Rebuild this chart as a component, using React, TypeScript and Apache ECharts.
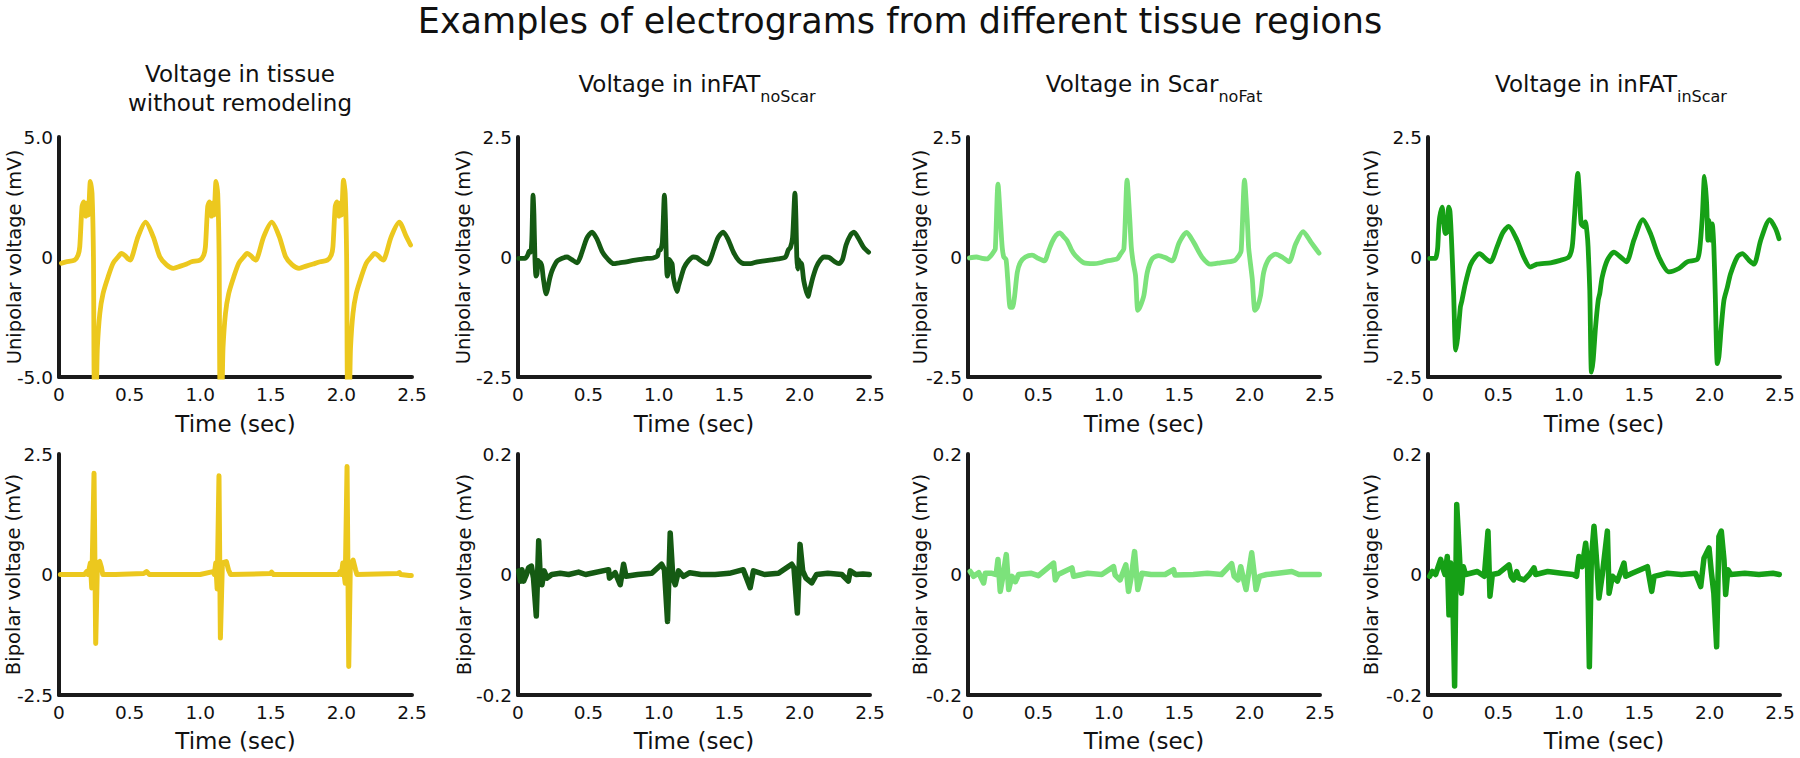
import React, { useEffect, useRef } from 'react';
import * as echarts from 'echarts';

const FONT = "'DejaVu Sans', 'Liberation Sans', sans-serif";

const mainTitle = 'Examples of electrograms from different tissue regions';
const titleMain = ['Voltage in tissue\nwithout remodeling', 'Voltage in inFAT', 'Voltage in Scar', 'Voltage in inFAT'];
const titleSub = ['', 'noScar', 'noFat', 'inScar'];
const yNames = ['Unipolar voltage (mV)', 'Bipolar voltage (mV)'];
const xName = 'Time (sec)';
const colors = ['#ECC81E', '#155A13', '#7CE27B', '#16A016'];
const uniLimits = [5, 2.5, 2.5, 2.5];
const biLimits = [2.5, 0.2, 0.2, 0.2];
const xTicks = [0, 0.5, 1.0, 1.5, 2.0, 2.5];

// Unipolar, tissue without remodeling [time s, mV]
const uniNoRemodel: number[][] = [
  [0.017, -0.26], [0.05, -0.2], [0.11, -0.13], [0.135, 0.08], [0.147, 0.43], [0.163, 2.1], [0.175, 2.3],
  [0.19, 1.7], [0.2, 2.25], [0.208, 1.75], [0.222, 3.15], [0.234, 2.65], [0.244, 0.0], [0.251, -5.6],
  [0.262, -5.6], [0.272, -3.75], [0.289, -2.35], [0.312, -1.52], [0.348, -0.82], [0.383, -0.26],
  [0.419, 0.01], [0.442, 0.15], [0.47, 0.05], [0.49, -0.08], [0.506, -0.13], [0.525, 0.15], [0.56, 0.85],
  [0.613, 1.45], [0.667, 0.85], [0.714, 0.01], [0.762, -0.33], [0.809, -0.47], [0.86, -0.38], [0.904, -0.29],
  [0.939, -0.2], [0.998, -0.13], [1.025, 0.08],
  [1.037, 0.43], [1.053, 2.1], [1.065, 2.3], [1.08, 1.7], [1.09, 2.25], [1.098, 1.75], [1.112, 3.15],
  [1.124, 2.65], [1.134, 0.0], [1.141, -5.6], [1.152, -5.6], [1.162, -3.75], [1.179, -2.35], [1.202, -1.52],
  [1.238, -0.82], [1.273, -0.26], [1.309, 0.01], [1.332, 0.15], [1.36, 0.05], [1.38, -0.08], [1.396, -0.13],
  [1.415, 0.15], [1.45, 0.85], [1.507, 1.45], [1.56, 0.85], [1.605, 0.01], [1.652, -0.33], [1.7, -0.47],
  [1.75, -0.38], [1.8, -0.29], [1.85, -0.2], [1.9, -0.13], [1.928, 0.08],
  [1.94, 0.43], [1.956, 2.1], [1.968, 2.3], [1.983, 1.7], [1.993, 2.25], [2.001, 1.75], [2.015, 3.2],
  [2.027, 2.65], [2.037, 0.0], [2.044, -5.6], [2.055, -5.6], [2.065, -3.75], [2.082, -2.35], [2.105, -1.52],
  [2.141, -0.82], [2.176, -0.26], [2.212, 0.01], [2.235, 0.15], [2.263, 0.05], [2.283, -0.08], [2.299, -0.13],
  [2.318, 0.15], [2.353, 0.85], [2.41, 1.45], [2.46, 0.85], [2.49, 0.5],
];

// Unipolar, inFAT noScar
const uniFatNoScar: number[][] = [
  [0.005, -0.03], [0.05, -0.03], [0.068, 0.03], [0.08, 0.12], [0.09, 0.1], [0.098, 0.35], [0.107, 1.29],
  [0.113, 0.9], [0.12, 0.0], [0.128, -0.4], [0.135, -0.35], [0.142, -0.07], [0.15, -0.1], [0.16, -0.12],
  [0.17, -0.2], [0.18, -0.45], [0.2, -0.77], [0.21, -0.67], [0.225, -0.45], [0.24, -0.3], [0.26, -0.17],
  [0.28, -0.08], [0.31, -0.03], [0.348, 0.0], [0.38, -0.05], [0.42, -0.12], [0.44, -0.02], [0.46, 0.15],
  [0.49, 0.4], [0.526, 0.52], [0.56, 0.38], [0.6, 0.1], [0.64, -0.05], [0.68, -0.14], [0.72, -0.12],
  [0.77, -0.1], [0.82, -0.07], [0.87, -0.05], [0.92, -0.03], [0.96, -0.02],
  [0.99, 0.02], [1.0, 0.14], [1.012, 0.15], [1.025, 0.3], [1.04, 1.29], [1.047, 0.8], [1.053, 0.0],
  [1.06, -0.4], [1.067, -0.32], [1.075, -0.05], [1.085, -0.1], [1.095, -0.15], [1.105, -0.45], [1.13, -0.72],
  [1.14, -0.6], [1.16, -0.4], [1.18, -0.22], [1.21, -0.08], [1.245, 0.0], [1.27, -0.01], [1.3, -0.08],
  [1.345, -0.15], [1.365, -0.06], [1.39, 0.15], [1.42, 0.4], [1.457, 0.52], [1.49, 0.38], [1.53, 0.1],
  [1.57, -0.08], [1.61, -0.14], [1.65, -0.14], [1.7, -0.1], [1.75, -0.08], [1.8, -0.06], [1.85, -0.04],
  [1.9, 0.0], [1.92, 0.15], [1.935, 0.2], [1.95, 0.4], [1.967, 1.33], [1.974, 0.8], [1.98, 0.0],
  [1.985, -0.25], [1.99, -0.05], [2.0, -0.1], [2.015, -0.15], [2.03, -0.5], [2.06, -0.82], [2.075, -0.65],
  [2.095, -0.42], [2.12, -0.2], [2.15, -0.05], [2.175, 0.0], [2.21, -0.01], [2.25, -0.1], [2.28, -0.14],
  [2.305, -0.05], [2.33, 0.25], [2.36, 0.45], [2.386, 0.52], [2.42, 0.38], [2.455, 0.2], [2.49, 0.1],
];

// Unipolar, Scar noFat
const uniScarNoFat: number[][] = [
  [0.01, -0.02], [0.06, 0.0], [0.1, -0.03], [0.135, -0.04], [0.163, 0.03], [0.185, 0.12], [0.194, 0.17],
  [0.213, 1.52], [0.23, 0.79], [0.243, 0.2], [0.254, 0.0], [0.27, -0.05], [0.282, -0.46], [0.3, -1.05],
  [0.315, -1.05], [0.33, -0.84], [0.35, -0.32], [0.372, -0.11], [0.408, 0.0], [0.455, 0.04], [0.5, -0.03],
  [0.543, -0.08], [0.575, 0.15], [0.597, 0.31], [0.625, 0.45], [0.652, 0.5], [0.68, 0.42], [0.704, 0.34],
  [0.735, 0.15], [0.763, 0.03], [0.822, -0.12], [0.893, -0.14], [0.94, -0.12], [0.988, -0.08],
  [1.059, -0.04], [1.083, 0.06], [1.107, 0.17], [1.13, 1.6], [1.149, 0.79], [1.16, 0.2], [1.173, -0.11],
  [1.19, -0.39], [1.206, -1.11], [1.22, -1.05], [1.249, -0.8], [1.273, -0.32], [1.308, -0.04], [1.355, 0.03],
  [1.4, -0.01], [1.45, -0.08], [1.5, 0.3], [1.552, 0.51], [1.604, 0.3], [1.664, -0.01], [1.723, -0.15],
  [1.794, -0.12], [1.889, -0.08], [1.924, 0.03], [1.94, 0.13], [1.964, 1.6], [1.983, 0.79], [1.993, 0.2],
  [2.002, -0.04], [2.019, -0.46], [2.038, -1.11], [2.055, -1.05], [2.078, -0.8], [2.1, -0.32], [2.137, -0.04],
  [2.185, 0.06], [2.235, -0.01], [2.28, -0.1], [2.327, 0.27], [2.38, 0.53], [2.438, 0.3], [2.493, 0.08],
];

// Unipolar, inFAT inScar
const uniFatInScar: number[][] = [
  [0.012, -0.03], [0.052, -0.03], [0.062, 0.05], [0.069, 0.2], [0.076, 0.6], [0.083, 0.83], [0.1, 1.04],
  [0.111, 0.76], [0.123, 0.49], [0.135, 0.52], [0.147, 1.04], [0.156, 0.95], [0.166, 0.42], [0.173, -0.07],
  [0.182, -0.76], [0.197, -1.94], [0.211, -1.67], [0.23, -1.04], [0.24, -0.92], [0.265, -0.56],
  [0.301, -0.17], [0.336, 0.0], [0.367, 0.07], [0.408, -0.03], [0.443, -0.1], [0.49, 0.21], [0.53, 0.5],
  [0.573, 0.64], [0.633, 0.35], [0.68, 0.0], [0.727, -0.21], [0.775, -0.15], [0.87, -0.12], [0.94, -0.07],
  [1.0, 0.0], [1.024, 0.21], [1.04, 0.83], [1.064, 1.74], [1.078, 1.18], [1.088, 0.69], [1.107, 0.63],
  [1.118, 0.73], [1.13, 0.49], [1.137, 0.21], [1.149, -0.69], [1.161, -2.4], [1.173, -2.15], [1.19, -1.46],
  [1.209, -0.9], [1.22, -0.76], [1.237, -0.42], [1.273, -0.07], [1.32, 0.1], [1.367, 0.0], [1.41, -0.1],
  [1.462, 0.35], [1.526, 0.78], [1.58, 0.49], [1.64, 0.0], [1.711, -0.31], [1.782, -0.24], [1.841, -0.1],
  [1.912, -0.05], [1.93, 0.17], [1.948, 0.83], [1.964, 1.68], [1.979, 1.11], [1.988, 0.35], [1.995, 0.76],
  [2.007, 0.35], [2.019, 0.69], [2.03, 0.21], [2.04, -0.76], [2.055, -2.22], [2.066, -2.08], [2.083, -1.46],
  [2.102, -0.9], [2.126, -0.63], [2.149, -0.35], [2.197, 0.0], [2.232, 0.07], [2.28, -0.07], [2.315, -0.15],
  [2.363, 0.35], [2.427, 0.78], [2.469, 0.59], [2.493, 0.38],
];

// Bipolar, tissue without remodeling
const biNoRemodel: number[][] = [
  [0.01, 0.0], [0.1, 0.0], [0.18, 0.0], [0.195, 0.06], [0.205, 0.0], [0.222, 0.24], [0.232, -0.28],
  [0.248, 2.1], [0.26, -1.43], [0.272, 0.24], [0.288, 0.27], [0.3, 0.15], [0.31, 0.0], [0.4, 0.0],
  [0.6, 0.02], [0.62, 0.06], [0.64, 0.0], [1.0, 0.0], [1.09, 0.06], [1.1, 0.0], [1.11, 0.24], [1.12, -0.3],
  [1.133, 2.05], [1.143, -1.32], [1.157, 0.24], [1.185, 0.27], [1.2, 0.1], [1.215, 0.0], [1.5, 0.02],
  [1.505, 0.05], [1.52, 0.0], [1.98, 0.0], [1.99, 0.06], [2.0, 0.0], [2.01, 0.24], [2.027, -0.18],
  [2.04, 2.24], [2.052, -1.91], [2.063, 0.17], [2.083, 0.3], [2.1, 0.1], [2.11, 0.0], [2.4, 0.02],
  [2.41, 0.04], [2.42, 0.0], [2.48, -0.02], [2.495, -0.02],
];

// Bipolar, inFAT noScar
const biFatNoScar: number[][] = [
  [0.005, 0.006], [0.017, -0.011], [0.028, 0.008], [0.04, -0.011], [0.06, 0.0], [0.075, 0.011],
  [0.095, 0.014], [0.11, -0.006], [0.13, -0.069], [0.147, 0.056], [0.158, -0.005], [0.17, -0.017],
  [0.186, 0.006], [0.206, -0.006], [0.24, 0.0], [0.3, 0.002], [0.36, 0.0], [0.43, 0.004], [0.48, 0.0],
  [0.643, 0.008], [0.65, -0.006], [0.69, 0.003], [0.726, -0.017], [0.75, 0.017], [0.767, -0.003],
  [0.85, 0.0], [0.95, 0.002], [1.02, 0.017], [1.04, 0.008], [1.062, -0.078], [1.081, 0.069], [1.1, -0.006],
  [1.117, -0.017], [1.14, 0.006], [1.175, -0.003], [1.22, 0.003], [1.3, 0.0], [1.4, 0.0], [1.5, 0.002],
  [1.6, 0.008], [1.649, -0.022], [1.672, 0.006], [1.75, 0.0], [1.85, 0.002], [1.944, 0.017], [1.96, 0.011],
  [1.984, -0.064], [2.003, 0.05], [2.022, 0.006], [2.045, -0.006], [2.086, -0.014], [2.12, 0.0],
  [2.2, 0.002], [2.3, 0.0], [2.346, -0.011], [2.36, 0.006], [2.4, 0.0], [2.45, 0.001], [2.495, 0.0],
];

// Bipolar, Scar noFat
const biScarNoFat: number[][] = [
  [0.016, 0.005], [0.04, -0.003], [0.076, 0.003], [0.111, -0.014], [0.123, 0.002], [0.17, 0.002],
  [0.2, 0.0], [0.213, 0.025], [0.229, -0.028], [0.25, 0.0], [0.272, 0.033], [0.289, -0.025],
  [0.312, -0.003], [0.336, -0.012], [0.36, 0.0], [0.45, 0.002], [0.5, -0.002], [0.608, 0.019],
  [0.62, -0.009], [0.64, 0.0], [0.738, 0.011], [0.75, -0.003], [0.85, 0.002], [0.95, 0.0], [1.034, 0.013],
  [1.045, -0.001], [1.08, -0.009], [1.121, 0.016], [1.14, -0.028], [1.16, -0.003], [1.183, 0.038],
  [1.206, -0.025], [1.235, 0.002], [1.3, 0.0], [1.4, 0.0], [1.46, 0.008], [1.47, -0.001], [1.6, 0.0],
  [1.7, 0.002], [1.8, 0.0], [1.873, 0.018], [1.89, -0.003], [1.918, -0.009], [1.937, 0.013],
  [1.955, -0.006], [1.975, -0.025], [2.015, 0.036], [2.046, -0.025], [2.07, -0.003], [2.12, 0.0],
  [2.2, 0.002], [2.3, 0.005], [2.35, 0.0], [2.42, 0.0], [2.495, 0.0],
];

// Bipolar, inFAT inScar
const biFatInScar: number[][] = [
  [0.012, -0.003], [0.03, 0.005], [0.054, 0.0], [0.09, 0.025], [0.102, 0.013], [0.121, 0.0], [0.137, 0.03],
  [0.149, -0.067], [0.161, 0.019], [0.173, 0.0], [0.189, -0.185], [0.204, 0.116], [0.22, 0.047],
  [0.237, -0.031], [0.251, 0.013], [0.267, 0.0], [0.35, 0.005], [0.4, -0.003], [0.426, 0.072],
  [0.44, -0.036], [0.457, 0.0], [0.5, 0.002], [0.575, 0.016], [0.59, -0.003], [0.608, -0.009], [0.63, 0.005],
  [0.645, -0.006], [0.682, -0.009], [0.72, 0.0], [0.753, 0.011], [0.765, 0.0], [0.85, 0.005], [0.95, 0.002],
  [1.03, 0.0], [1.055, -0.003], [1.072, 0.03], [1.095, 0.013], [1.12, 0.052], [1.133, 0.019],
  [1.146, -0.153], [1.16, 0.025], [1.179, 0.08], [1.19, 0.047], [1.202, 0.008], [1.214, -0.039],
  [1.238, 0.0], [1.274, 0.072], [1.286, -0.031], [1.31, -0.003], [1.345, -0.011], [1.392, 0.019],
  [1.404, -0.003], [1.45, 0.002], [1.558, 0.013], [1.589, -0.028], [1.606, -0.003], [1.7, 0.002], [1.8, 0.0],
  [1.9, 0.002], [1.937, -0.02], [1.96, 0.027], [1.996, 0.044], [2.012, 0.005], [2.03, -0.031],
  [2.05, -0.12], [2.066, 0.063], [2.083, 0.072], [2.102, 0.025], [2.114, -0.033], [2.13, 0.008],
  [2.15, 0.0], [2.25, 0.002], [2.35, 0.0], [2.45, 0.002], [2.495, 0.0],
];

const uniSeries = [uniNoRemodel, uniFatNoScar, uniScarNoFat, uniFatInScar];
const biSeries = [biNoRemodel, biFatNoScar, biScarNoFat, biFatInScar];

// layout (pixels)
const colLeft = [59, 518, 968, 1428];
const colWidth = [353, 352, 352, 352];
const rowTop = [137, 454];
const rowHeight = [240, 241];
const titleX = [240, 697, 1154, 1611];
const yNameX = [[14, 463, 920, 1371], [13, 464, 920, 1371]];
const xNameY = [424, 741];
const lineWidths = [[4.8, 4.8, 4.8, 4.8], [5, 5.5, 5.5, 5.5]];

const fmt = (v: number) => (Math.abs(v) < 1e-9 ? '0' : v.toFixed(1));

export default function App() {
  const ref = useRef<HTMLDivElement>(null);
  useEffect(() => {
    if (!ref.current) return;
    const chart = echarts.init(ref.current, null, { renderer: 'svg' });
    const grid: any[] = [];
    const xAxis: any[] = [];
    const yAxis: any[] = [];
    const series: any[] = [];
    const graphic: any[] = [];
    const axisLine = { show: true, onZero: false, lineStyle: { color: '#1a1a1a', width: 4 } };
    for (let row = 0; row < 2; row++) {
      for (let col = 0; col < 4; col++) {
        const idx = row * 4 + col;
        const lim = row === 0 ? uniLimits[col] : biLimits[col];
        grid.push({ left: colLeft[col], top: rowTop[row], width: colWidth[col], height: rowHeight[row] });
        xAxis.push({
          type: 'value', gridIndex: idx, min: xTicks[0], max: xTicks[xTicks.length - 1], interval: 0.5,
          axisLine, axisTick: { show: false }, splitLine: { show: false },
          axisLabel: { fontFamily: FONT, fontSize: 18.5, color: '#111', margin: 8, formatter: fmt },
        });
        yAxis.push({
          type: 'value', gridIndex: idx, min: -lim, max: lim, interval: lim,
          axisLine, axisTick: { show: false }, splitLine: { show: false },
          axisLabel: { fontFamily: FONT, fontSize: 18.5, color: '#111', margin: 6, formatter: fmt },
        });
        series.push({
          type: 'line', xAxisIndex: idx, yAxisIndex: idx,
          data: row === 0 ? uniSeries[col] : biSeries[col],
          showSymbol: false, symbol: 'none', clip: true, silent: true,
          smooth: row === 0 ? 0.25 : false,
          lineStyle: { color: colors[col], width: lineWidths[row][col], join: 'round', cap: 'round' },
        });
        graphic.push({
          type: 'text', x: yNameX[row][col], y: rowTop[row] + rowHeight[row] / 2, rotation: Math.PI / 2,
          style: { text: yNames[row], font: `19.5px ${FONT}`, fill: '#111', align: 'center', verticalAlign: 'middle' },
        });
        graphic.push({
          type: 'text', x: colLeft[col] + colWidth[col] / 2, y: xNameY[row],
          style: { text: xName, font: `23px ${FONT}`, fill: '#111', align: 'center', verticalAlign: 'middle' },
        });
      }
    }
    // main title
    graphic.push({
      type: 'text', x: 900, y: 21,
      style: { text: mainTitle, font: `35px ${FONT}`, fill: '#111', align: 'center', verticalAlign: 'middle' },
    });
    // panel titles
    for (let col = 0; col < 4; col++) {
      if (!titleSub[col]) {
        graphic.push({
          type: 'text', x: titleX[col], y: 88,
          style: { text: titleMain[col], font: `23px ${FONT}`, lineHeight: 29, fill: '#111', align: 'center', verticalAlign: 'middle' },
        });
      } else {
        graphic.push({
          type: 'text', x: titleX[col], y: 84,
          style: {
            text: `{m|${titleMain[col]}}{s|${titleSub[col]}}`,
            align: 'center', verticalAlign: 'middle', fill: '#111',
            rich: {
              m: { fontFamily: FONT, fontSize: 23, lineHeight: 40, verticalAlign: 'middle', fill: '#111' },
              s: { fontFamily: FONT, fontSize: 16, lineHeight: 16, verticalAlign: 'bottom', fill: '#111' },
            },
          },
        });
      }
    }
    chart.setOption({ animation: false, backgroundColor: '#ffffff', grid, xAxis, yAxis, series, graphic });
    return () => chart.dispose();
  }, []);
  return (
    <div
      ref={ref}
      style={{ position: 'fixed', left: 0, top: 0, width: 1800, height: 758, background: '#fff' }}
    />
  );
}
